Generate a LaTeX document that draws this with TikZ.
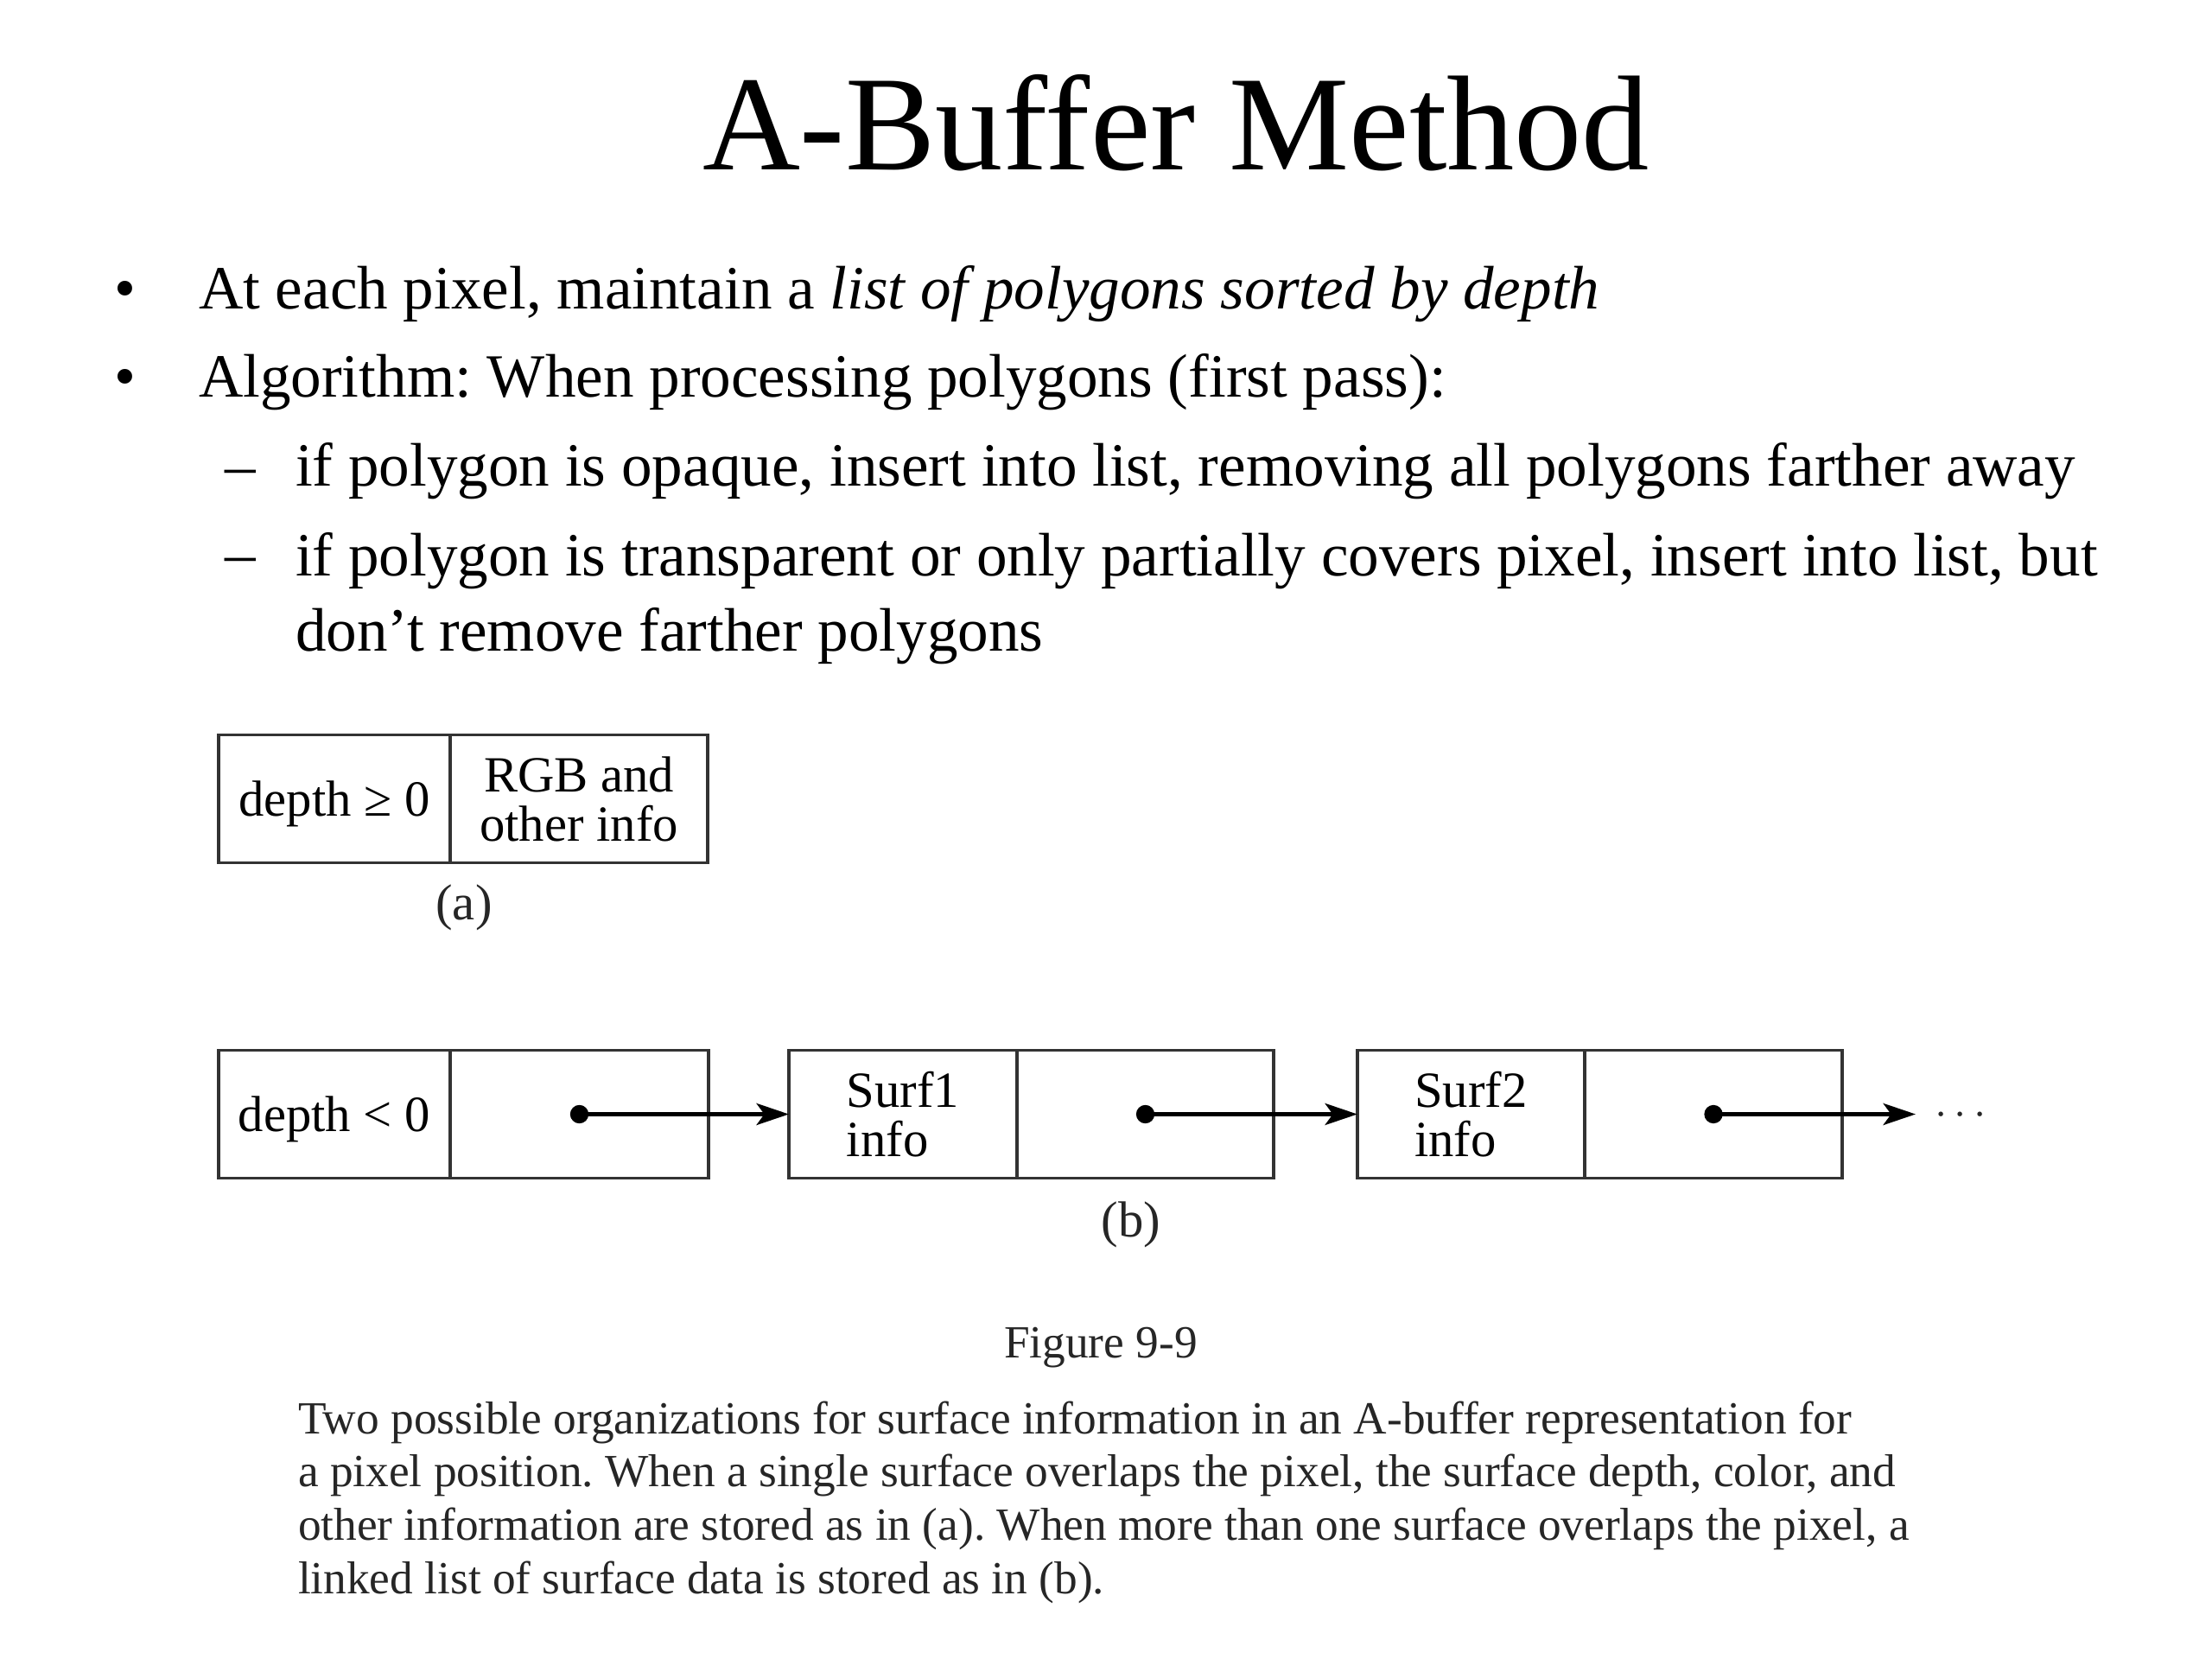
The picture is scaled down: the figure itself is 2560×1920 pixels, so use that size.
\documentclass[tikz,border=0pt]{standalone}
\usepackage{fontspec}
\setmainfont{Liberation Serif}
\usetikzlibrary{arrows.meta}
\frenchspacing
\begin{document}
\begin{tikzpicture}[x=0.28125pt,y=-0.28125pt,
  every node/.style={inner sep=0pt, outer sep=0pt},
  titletext/.style={font=\fontsize{44}{50}\selectfont, anchor=base west},
  body/.style={font=\fontsize{20}{24.5}\selectfont, anchor=base west},
  bulletmark/.style={font=\fontsize{20}{24.5}\selectfont, anchor=base},
  cell/.style={draw=black!80, line width=1pt, minimum height=41.6pt, text depth=0pt, font=\fontsize{16.5}{16}\selectfont},
  figlabel/.style={font=\fontsize{16.5}{16}\selectfont, text=black!85},
  ptr/.style={line width=1.4pt, -{Stealth[length=10.5pt,width=7pt,inset=2.5pt]}},
  captext/.style={font=\fontsize{15}{17.35}\selectfont, text=black!85}]

\useasboundingbox (0,0) rectangle (2560,1920);

% title
\node[titletext] (title) at (813,197) {A-Buffer Method};

% bullets
\node[bulletmark] (bu1) at (145,358) {•};
\node[body] (t1) at (230,358) {At each pixel, maintain a \textit{list of polygons sorted by depth}};
\node[bulletmark] (bu2) at (145,460) {•};
\node[body] (t2) at (230,460) {Algorithm: When processing polygons (first pass):};
\node[bulletmark] (da1) at (278.5,563) {–};
\node[body] (t3) at (342,563) {if polygon is opaque, insert into list, removing all polygons farther away};
\node[bulletmark] (da2) at (278.5,665) {–};
\node[body, anchor=north west, align=left] (t4) at (342,616.4) {if polygon is transparent or only partially covers pixel, insert into list, but\\don’t remove farther polygons};

% (a)
\node[cell, minimum width=75.4pt] (a1) at (387,924.5) {depth ≥ 0};
\node[cell, minimum width=83.8pt, align=center] (a2) at (670,924.5) {RGB and\\other info};
\node[figlabel] (alabel) at (537,1050) {(a)};

% (b)
\node[cell, minimum width=75.4pt] (b1k) at (387,1289.5) {depth < 0};
\node[cell, minimum width=84.1pt] (b1p) at (670.5,1289.5) {};
\node[cell, minimum width=74.25pt, align=left] (b2k) at (1045,1289.5) {Surf1\\info};
\node[cell, minimum width=83.5pt] (b2p) at (1325.5,1289.5) {};
\node[cell, minimum width=74pt, align=left] (b3k) at (1702.5,1289.5) {Surf2\\info};
\node[cell, minimum width=83.8pt] (b3p) at (1983,1289.5) {};
\coordinate (tail) at (2217,1289.5);
\node[figlabel, font=\fontsize{14}{14}\selectfont] (more) at (2269,1291) {$\cdots$};

\fill (b1p.center) circle (3pt);
\fill (b2p.center) circle (3pt);
\fill (b3p.center) circle (3pt);
\draw[ptr] (b1p.center) -- (b2k.west);
\draw[ptr] (b2p.center) -- (b3k.west);
\draw[ptr] (b3p.center) -- (tail);

\node[figlabel] (blabel) at (1309,1417) {(b)};

% caption
\node[captext, anchor=base] (figno) at (1274,1571) {Figure 9-9};
\node[captext, anchor=north west, align=left] (cap) at (345,1621.6) {Two possible organizations for surface information in an A-buffer representation for\\a pixel position. When a single surface overlaps the pixel, the surface depth, color, and\\other information are stored as in (a). When more than one surface overlaps the pixel, a\\linked list of surface data is stored as in (b).};
\end{tikzpicture}
\end{document}
